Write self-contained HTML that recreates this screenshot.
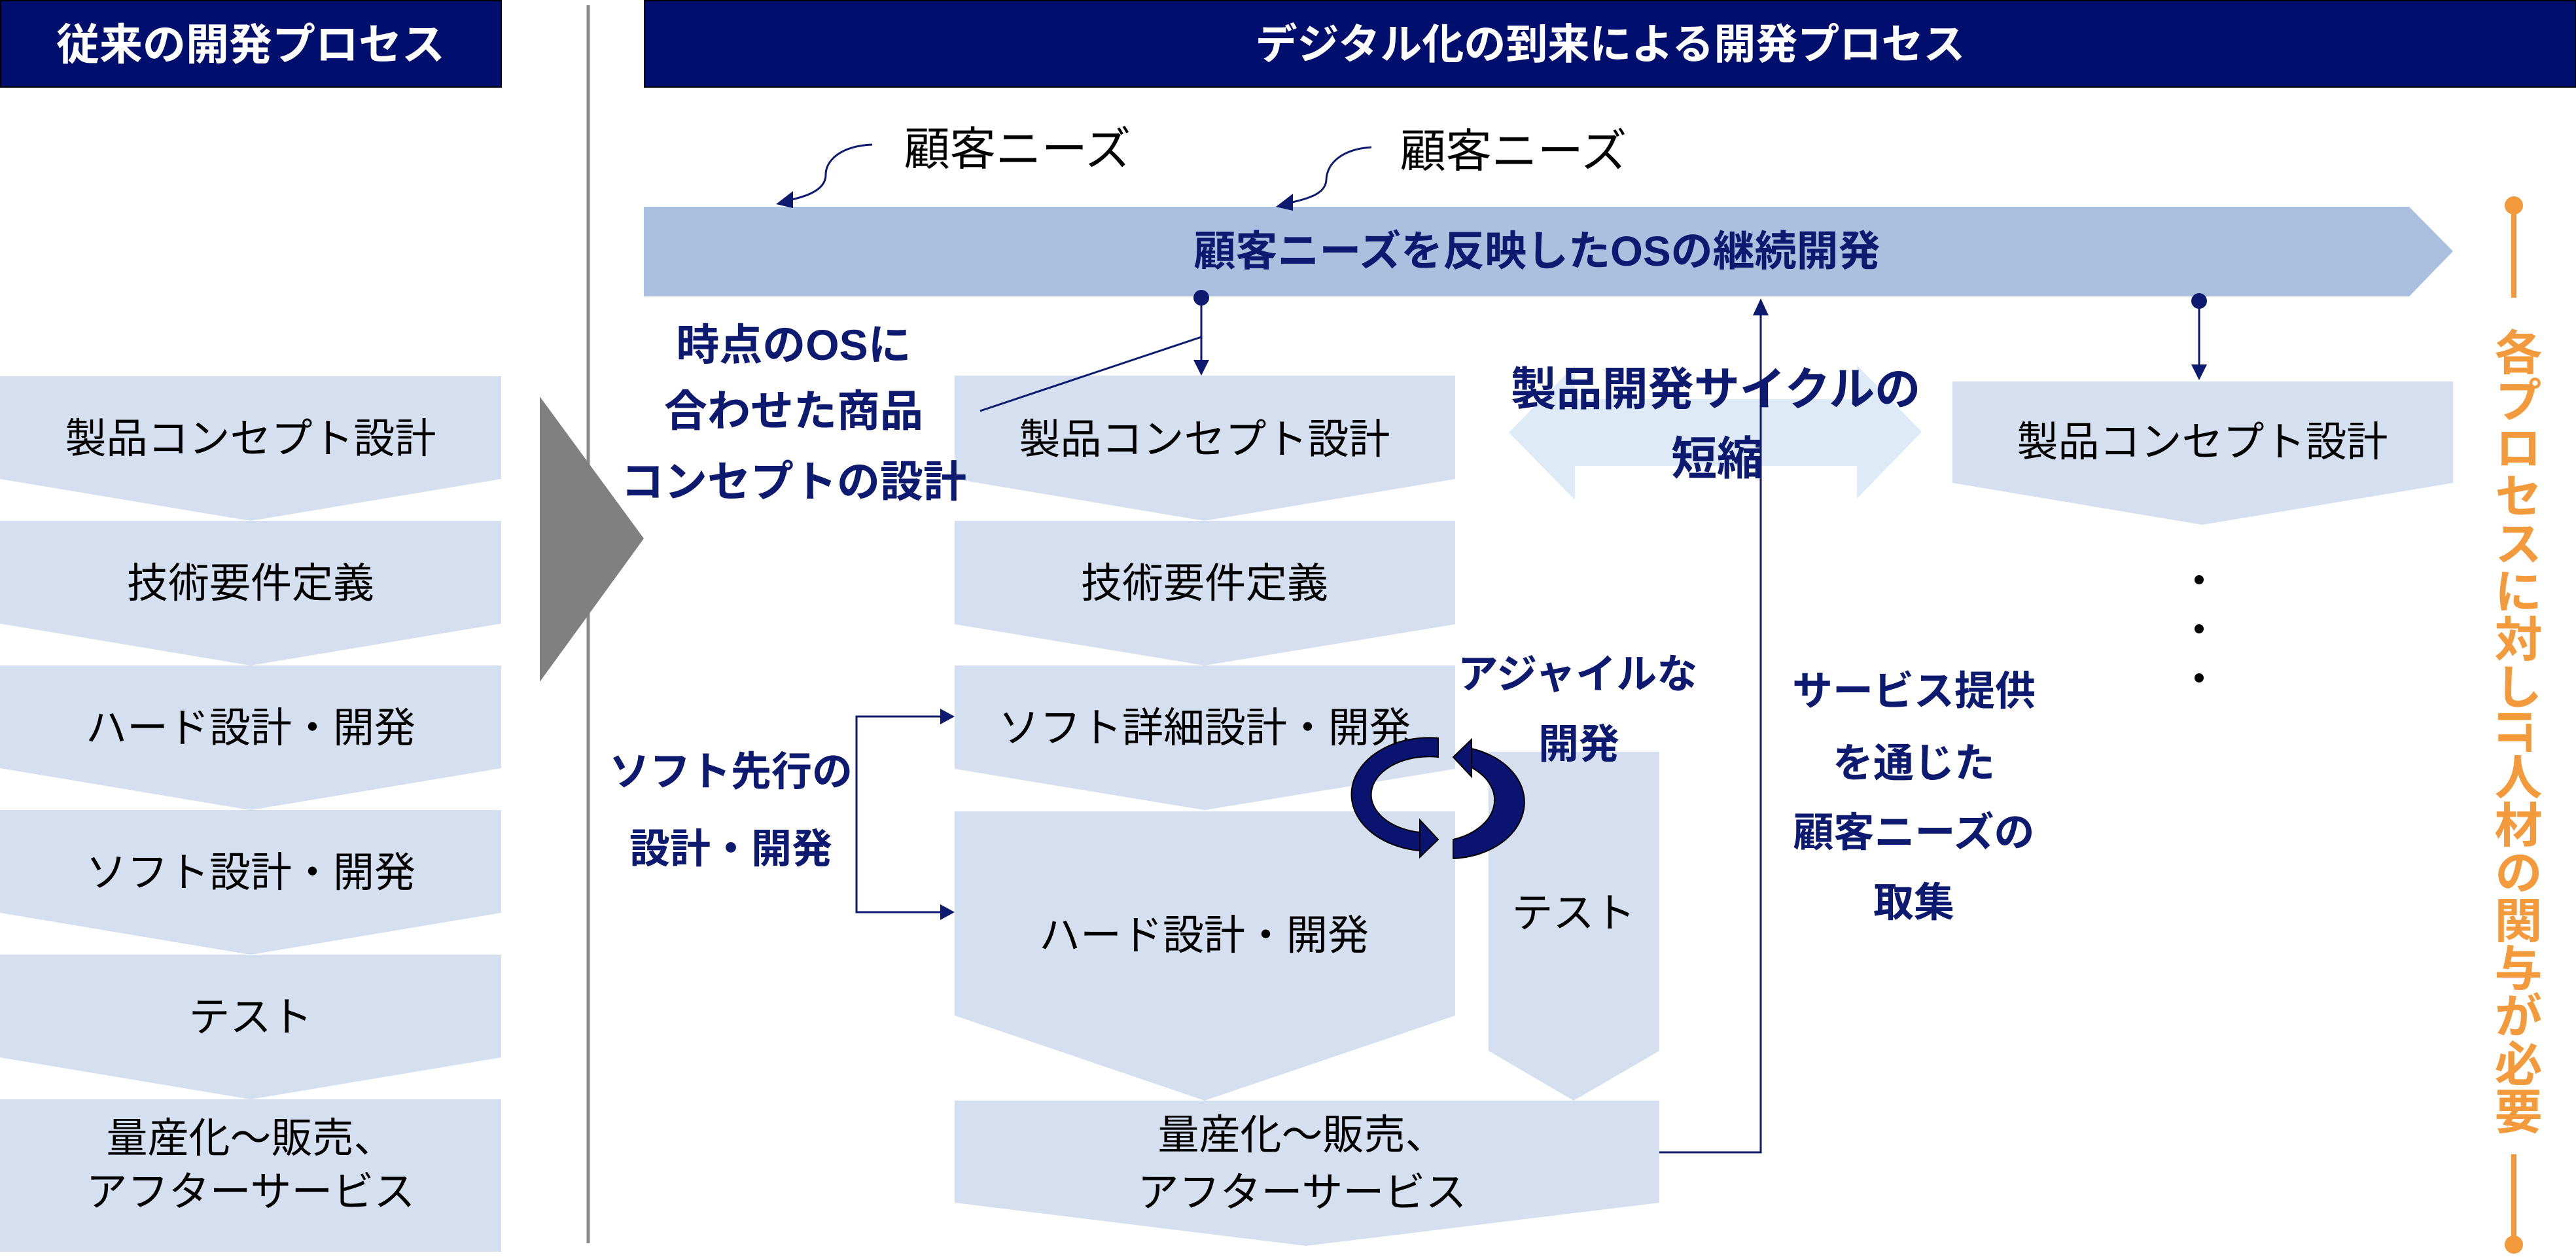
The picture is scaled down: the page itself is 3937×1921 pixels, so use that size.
<!DOCTYPE html>
<html><head><meta charset="utf-8"><style>
html,body{margin:0;padding:0;background:#fff;}
svg{display:block;}
text{font-family:"Liberation Sans","Noto Sans CJK JP",sans-serif;}
.b{fill:#000;font-size:63px;}
.n{fill:#0D1A70;font-size:64px;font-weight:bold;}
</style></head><body>
<svg width="3937" height="1921" viewBox="0 0 3937 1921" xmlns="http://www.w3.org/2000/svg">
<!-- headers -->
<rect x="1" y="1" width="765" height="132" fill="#000E6E" stroke="#000" stroke-width="2"/>
<text x="383" y="68" dominant-baseline="central" text-anchor="middle" fill="#fff" font-size="66" font-weight="bold">従来の開発プロセス</text>
<rect x="985" y="1" width="2952" height="132" fill="#000E6E" stroke="#000" stroke-width="2"/>
<text x="2461" y="68" dominant-baseline="central" text-anchor="middle" fill="#fff" font-size="64" font-weight="bold">デジタル化の到来による開発プロセス</text>

<!-- separator -->
<line x1="899" y1="8" x2="899" y2="1900" stroke="#8a8a8a" stroke-width="5"/>
<polygon points="825,606 984,823 825,1042" fill="#808080"/>

<!-- left column -->
<g fill="#D5DFEF">
<polygon points="0,575 766,575 766,732 383,796 0,732"/>
<polygon points="0,796 766,796 766,953 383,1017 0,953"/>
<polygon points="0,1017 766,1017 766,1174 383,1238 0,1174"/>
<polygon points="0,1238 766,1238 766,1395 383,1459 0,1395"/>
<polygon points="0,1459 766,1459 766,1616 383,1680 0,1616"/>
<rect x="0" y="1680" width="766" height="233"/>
</g>
<g class="b" text-anchor="middle">
<text x="383" y="671" dominant-baseline="central">製品コンセプト設計</text>
<text x="383" y="892" dominant-baseline="central">技術要件定義</text>
<text x="383" y="1113" dominant-baseline="central">ハード設計・開発</text>
<text x="383" y="1334" dominant-baseline="central">ソフト設計・開発</text>
<text x="383" y="1555" dominant-baseline="central">テスト</text>
<text x="383" y="1740" dominant-baseline="central">量産化～販売、</text>
<text x="383" y="1822" dominant-baseline="central">アフターサービス</text>
</g>

<!-- top bar arrow -->
<polygon points="984,316 3682,316 3749,384 3682,453 984,453" fill="#ABBFDF"/>
<text x="2349" y="384" dominant-baseline="central" text-anchor="middle" class="n" font-size="66">顧客ニーズを反映したOSの継続開発</text>

<!-- customer needs labels -->
<text x="1555" y="228" dominant-baseline="central" text-anchor="middle" font-size="70" fill="#000">顧客ニーズ</text>
<text x="2313" y="231" dominant-baseline="central" text-anchor="middle" font-size="70" fill="#000">顧客ニーズ</text>
<path d="M1333,221 C1285,223 1262,245 1262,267 C1262,285 1245,298 1205,306" fill="none" stroke="#0D1A70" stroke-width="3"/>
<polygon points="1186,312 1212,292 1212,318" fill="#0D1A70"/>
<path d="M2096,225 C2050,228 2028,250 2027,275 C2026,292 2010,302 1970,310" fill="none" stroke="#0D1A70" stroke-width="3"/>
<polygon points="1950,316 1976,296 1976,322" fill="#0D1A70"/>

<!-- middle column -->
<g fill="#D5DFEF">
<polygon points="2275,1149 2536,1149 2536,1606 2405,1682 2275,1606"/>
<polygon points="1459,574 2224,574 2224,732 1841,796 1459,732"/>
<polygon points="1459,796 2224,796 2224,954 1841,1017 1459,954"/>
<polygon points="1459,1017 2224,1017 2224,1175 1841,1238 1459,1175"/>
<polygon points="1459,1240 2224,1240 2224,1552 1841,1682 1459,1552"/>
<polygon points="1459,1682 2536,1682 2536,1838 1996,1904 1459,1838"/>
<polygon points="2984,583 3749,583 3749,738 3366,802 2984,738"/>
</g>
<g class="b" text-anchor="middle">
<text x="1841" y="672" dominant-baseline="central">製品コンセプト設計</text>
<text x="1841" y="892" dominant-baseline="central">技術要件定義</text>
<text x="1841" y="1113" dominant-baseline="central">ソフト詳細設計・開発</text>
<text x="1840" y="1430" dominant-baseline="central">ハード設計・開発</text>
<text x="2405" y="1396" dominant-baseline="central">テスト</text>
<text x="1990" y="1735" dominant-baseline="central">量産化～販売、</text>
<text x="1990" y="1823" dominant-baseline="central">アフターサービス</text>
<text x="3366" y="676" dominant-baseline="central">製品コンセプト設計</text>
</g>

<!-- dots -->
<circle cx="3361" cy="886" r="7" fill="#000"/>
<circle cx="3361" cy="961" r="7" fill="#000"/>
<circle cx="3361" cy="1036" r="7" fill="#000"/>

<!-- shorten cycle double arrow -->
<polygon points="2306,661 2407,558 2407,610 2838,610 2838,558 2937,660 2838,762 2838,712 2407,712 2407,764" fill="#DEEBF7"/>

<!-- connectors -->
<g stroke="#0D1A70" stroke-width="3" fill="none">
<line x1="1836" y1="454" x2="1836" y2="552"/>
<line x1="1836" y1="515" x2="1498" y2="628"/>
<line x1="3361" y1="460" x2="3361" y2="560"/>
<polyline points="2536,1761 2691,1761 2691,480"/>
<polyline points="1440,1095 1309,1095 1309,1394 1440,1394"/>
</g>
<g fill="#0D1A70">
<circle cx="1836" cy="455" r="12"/>
<polygon points="1824,550 1848,550 1836,574"/>
<circle cx="3361" cy="460" r="12"/>
<polygon points="3349,557 3373,557 3361,581"/>
<polygon points="2679,482 2703,482 2691,456"/>
<polygon points="1437,1083 1437,1107 1459,1095"/>
<polygon points="1437,1382 1437,1406 1459,1394"/>
</g>

<!-- circular arrows -->
<g stroke="#000" stroke-width="2" fill="#0A1470">
<path d="M2198,1128 L2198,1157 A88,58 0 0 0 2170,1272 L2170,1300 A115,84 0 0 1 2198,1128 Z"/>
<polygon points="2170,1253 2198,1283 2170,1310"/>
<path d="M2221,1312 L2221,1283 A95,64 0 0 0 2249,1173 L2249,1144 A115,86 0 0 1 2221,1312 Z"/>
<polygon points="2249,1130 2221,1157 2249,1187"/>
</g>

<!-- navy labels -->
<g class="n" text-anchor="middle">
<text x="1213" y="527" dominant-baseline="central" font-size="66">時点のOSに</text>
<text x="1213" y="628" dominant-baseline="central" font-size="66">合わせた商品</text>
<text x="1213" y="736" dominant-baseline="central" font-size="66">コンセプトの設計</text>
<text x="2622" y="595" dominant-baseline="central" font-size="70">製品開発サイクルの</text>
<text x="2624" y="701" dominant-baseline="central" font-size="70">短縮</text>
<text x="2411" y="1031" dominant-baseline="central" font-size="62">アジャイルな</text>
<text x="2413" y="1138" dominant-baseline="central" font-size="62">開発</text>
<text x="1117" y="1180" dominant-baseline="central" font-size="62">ソフト先行の</text>
<text x="1117" y="1298" dominant-baseline="central" font-size="62">設計・開発</text>
<text x="2925" y="1057" dominant-baseline="central" font-size="62">サービス提供</text>
<text x="2925" y="1167" dominant-baseline="central" font-size="62">を通じた</text>
<text x="2925" y="1273" dominant-baseline="central" font-size="62">顧客ニーズの</text>
<text x="2925" y="1380" dominant-baseline="central" font-size="62">取集</text>
</g>

<!-- orange -->
<g stroke="#F39A3C" stroke-width="8">
<line x1="3842" y1="314" x2="3842" y2="455"/>
<line x1="3842" y1="1764" x2="3842" y2="1902"/>
</g>
<circle cx="3842" cy="314" r="14" fill="#F39A3C"/>
<circle cx="3842" cy="1902" r="14" fill="#F39A3C"/>
</svg>
<div style="position:absolute;left:3800px;top:472px;width:84px;height:1290px;writing-mode:vertical-rl;text-orientation:mixed;font-family:'Liberation Sans','Noto Sans CJK JP',sans-serif;font-size:73px;font-weight:bold;color:#F39A3C;line-height:84px;text-align:center;">各プロセスに対しIT人材の関与が必要</div>
</body></html>
